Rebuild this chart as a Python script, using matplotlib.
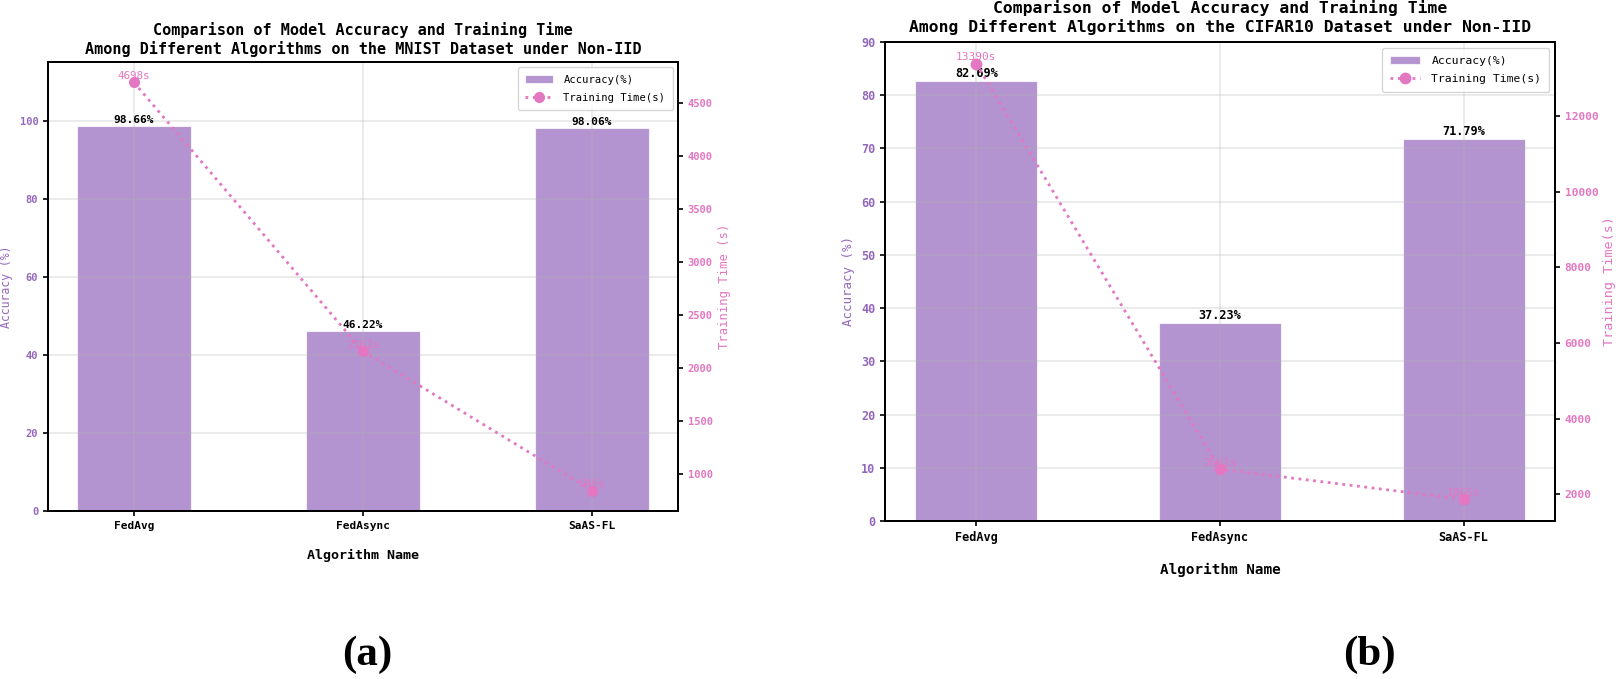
import matplotlib
matplotlib.use("Agg")
import matplotlib.pyplot as plt
import numpy as np

algorithms = ["FedAvg", "FedAsync", "SaAS-FL"]
mnist_acc = [98.66, 46.22, 98.06]
mnist_time = [4698, 2161, 846]
cifar_acc = [82.69, 37.23, 71.79]
cifar_time = [13390, 2661, 1865]

titles = [
    "Comparison of Model Accuracy and Training Time\nAmong Different Algorithms on the MNIST Dataset under Non-IID",
    "Comparison of Model Accuracy and Training Time\nAmong Different Algorithms on the CIFAR10 Dataset under Non-IID",
]
time_labels = ["Training Time (s)", "Training Time(s)"]
panel_labels = ["(a)", "(b)"]

W, H = 1621, 679
fig = plt.figure(figsize=(W / 100, H / 100), dpi=100)
plt.rcParams["font.family"] = ["DejaVu Sans Mono", "DejaVu Sans"]

BAR_C = "#9467bd"
LINE_C = "#e377c2"


def panel(rect, acc, tim, title, ylim_top, cfg, tlabel, lab, lab_xy):
    x0, y0, w, h = rect
    ax1 = fig.add_axes([x0 / W, (H - y0 - h) / H, w / W, h / H])
    x = np.arange(len(algorithms))
    bars = ax1.bar(x, acc, width=0.5, color=BAR_C, alpha=0.7,
                   edgecolor="white", linewidth=0.8, label="Accuracy(%)", zorder=1)
    ax1.set_ylim(0, ylim_top)
    ax1.set_xticks(x)
    ax1.set_xticklabels(algorithms, fontsize=cfg["xt"], fontweight="bold")
    ax1.set_xlabel("Algorithm Name", fontsize=cfg["xl"], fontweight="bold", labelpad=cfg["xlp"])
    ax1.set_ylabel("Accuracy (%)", color=BAR_C, fontsize=cfg["yl"], labelpad=cfg["ylp"])
    ax1.tick_params(axis="y", labelcolor=BAR_C, labelsize=cfg["yt"], width=1.2)
    ax1.tick_params(axis="x", width=1.2)
    for t in ax1.get_yticklabels():
        t.set_fontweight("bold")
    ax1.grid(True, color="#b0b0b0", alpha=0.3, linewidth=1.2, zorder=1.5)
    for sp in ax1.spines.values():
        sp.set_linewidth(1.4)
    for b, a in zip(bars, acc):
        ax1.text(b.get_x() + b.get_width() / 2, a + ylim_top * 0.002, f"{a:.2f}%",
                 ha="center", va="bottom", fontsize=cfg["bl"],
                 fontweight="bold", color="black")
    ax1.set_title(title, fontsize=cfg["ti"], fontweight="bold", pad=cfg["tp"])

    ax2 = ax1.twinx()
    ax2.plot(x, tim, linestyle=":", linewidth=2, color=LINE_C,
             marker="o", markersize=cfg["ms"], label="Training Time(s)")
    ax2.set_ylabel(tlabel, color=LINE_C, fontsize=cfg["y2l"], labelpad=cfg["y2lp"])
    ax2.tick_params(axis="y", labelcolor=LINE_C, labelsize=cfg["y2t"], width=1.2)
    for t in ax2.get_yticklabels():
        t.set_fontweight("bold")
    for sp in ax2.spines.values():
        sp.set_linewidth(1.4)
    for xi, t in zip(x, tim):
        ax2.annotate(f"{t}s", (xi, t), xytext=(0, 1), textcoords="offset points",
                     ha="center", va="bottom", color=LINE_C, fontsize=cfg["an"])

    h1, l1 = ax1.get_legend_handles_labels()
    h2, l2 = ax2.get_legend_handles_labels()
    ax1.legend(h1 + h2, l1 + l2, loc="upper right", prop={"size": cfg["lg"]},
               handlelength=2.6, handletextpad=1.0, borderpad=0.7, labelspacing=0.75)
    fig.text(lab_xy[0] / W, 1 - lab_xy[1] / H, lab, ha="center", va="center",
             family="Liberation Serif", fontsize=31, fontweight="bold")


left_cfg = dict(xt=8, xl=9.6, xlp=13, yl=8.3, ylp=5, yt=7.5, bl=8, ti=10.9, tp=6,
                ms=7, y2l=8.8, y2lp=4, y2t=7.5, an=7.8, lg=7.6)
right_cfg = dict(xt=8.6, xl=10.3, xlp=14, yl=9, ylp=4.5, yt=8.5, bl=8.6, ti=11.8, tp=7.5,
                 ms=7.5, y2l=9.7, y2lp=3, y2t=8.1, an=8, lg=8.2)

panel((48, 62, 630, 449), mnist_acc, mnist_time, titles[0], 115, left_cfg,
      time_labels[0], panel_labels[0], (367, 655))
panel((885, 42, 670, 479), cifar_acc, cifar_time, titles[1], 90, right_cfg,
      time_labels[1], panel_labels[1], (1369, 655))

fig.savefig("out.png", dpi=100)
